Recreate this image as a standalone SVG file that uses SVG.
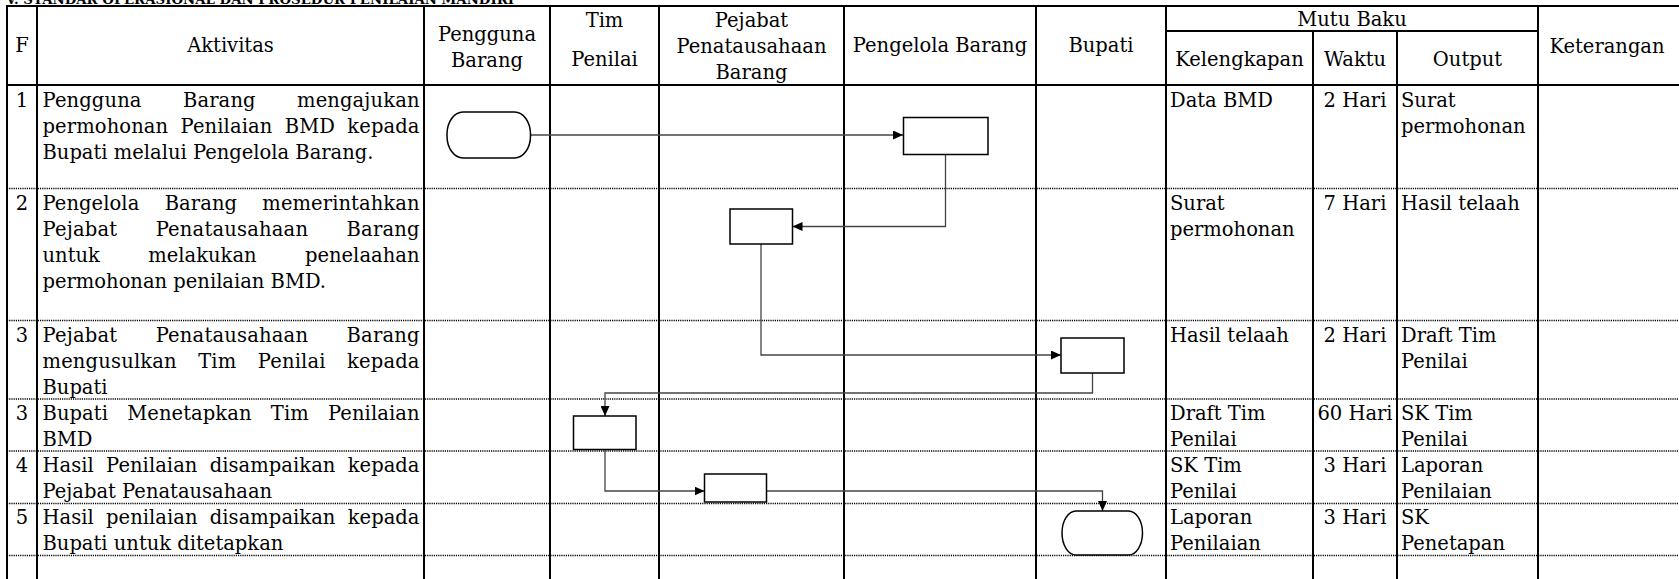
<svg xmlns="http://www.w3.org/2000/svg" width="1679" height="579" viewBox="0 0 1679 579">
<style>
.t{font-family:"DejaVu Serif","Liberation Serif",serif;font-size:19.5px;fill:#000}
.m{text-anchor:middle}
.ttl{font-family:"DejaVu Serif","Liberation Serif",serif;font-size:12.5px;font-weight:bold;fill:#000}
.g{stroke:#000;stroke-width:2;fill:none}
.d{stroke:#000;stroke-width:1.6;stroke-dasharray:1.2 1;fill:none}
.n{fill:#fff;stroke:#000;stroke-width:1.5}
.cn{fill:none;stroke:#444;stroke-width:1.3}
</style>
<defs>
<marker id="ah" markerUnits="userSpaceOnUse" markerWidth="10" markerHeight="9" refX="10" refY="4.5" orient="auto">
<path d="M0,0 L10,4.5 L0,9 z" fill="#000"/>
</marker>
</defs>
<rect width="1679" height="579" fill="#fff"/>
<text class="ttl" x="6" y="4" textLength="508" lengthAdjust="spacingAndGlyphs">V. STANDAR OPERASIONAL DAN PROSEDUR PENILAIAN MANDIRI</text>
<g id="grid">
<path class="g" d="M6,6 H1679 M6,85 H1679 M1166,31 H1538"/>
<path class="g" d="M7,6 V579 M37,6 V579 M424,6 V579 M550,6 V579 M659,6 V579 M844,6 V579 M1036,6 V579 M1166,6 V579 M1313,31 V579 M1397,31 V579 M1538,6 V579"/>
<path class="d" d="M7,188.5 H1679 M7,320.5 H1679 M7,399 H1679 M7,451 H1679 M7,503.5 H1679 M7,555.5 H1679"/>
</g>
<g id="header">
<text class="t m" x="22" y="52">F</text>
<text class="t m" x="230.5" y="52">Aktivitas</text>
<text class="t m" x="487" y="41">Pengguna</text>
<text class="t m" x="487" y="67">Barang</text>
<text class="t m" x="604.5" y="27">Tim</text>
<text class="t m" x="604.5" y="66">Penilai</text>
<text class="t m" x="751.5" y="27">Pejabat</text>
<text class="t m" x="751.5" y="53">Penatausahaan</text>
<text class="t m" x="751.5" y="79">Barang</text>
<text class="t m" x="940" y="52">Pengelola Barang</text>
<text class="t m" x="1101" y="52">Bupati</text>
<text class="t m" x="1352" y="26">Mutu Baku</text>
<text class="t m" x="1239.5" y="66">Kelengkapan</text>
<text class="t m" x="1355" y="66">Waktu</text>
<text class="t m" x="1467.5" y="66">Output</text>
<text class="t m" x="1607" y="53">Keterangan</text>
</g>
<g id="activities">
<text class="t m" x="22" y="106.5">1</text>
<text class="t" x="42.5" y="106.5" style="word-spacing:35px" textLength="377" lengthAdjust="spacing">Pengguna Barang mengajukan</text>
<text class="t" x="42.5" y="132.5" style="word-spacing:6px" textLength="377" lengthAdjust="spacing">permohonan Penilaian BMD kepada</text>
<text class="t" x="42.5" y="158.5">Bupati melalui Pengelola Barang.</text>
<text class="t m" x="22" y="209.5">2</text>
<text class="t" x="42.5" y="209.5" style="word-spacing:19px" textLength="377" lengthAdjust="spacing">Pengelola Barang memerintahkan</text>
<text class="t" x="42.5" y="235.5" style="word-spacing:32px" textLength="377" lengthAdjust="spacing">Pejabat Penatausahaan Barang</text>
<text class="t" x="42.5" y="261.5" style="word-spacing:42px" textLength="377" lengthAdjust="spacing">untuk melakukan penelaahan</text>
<text class="t" x="42.5" y="287.5">permohonan penilaian BMD.</text>
<text class="t m" x="22" y="341.5">3</text>
<text class="t" x="42.5" y="341.5" style="word-spacing:32px" textLength="377" lengthAdjust="spacing">Pejabat Penatausahaan Barang</text>
<text class="t" x="42.5" y="367.5" style="word-spacing:15px" textLength="377" lengthAdjust="spacing">mengusulkan Tim Penilai kepada</text>
<text class="t" x="42.5" y="393.5">Bupati</text>
<text class="t m" x="22" y="419.5">3</text>
<text class="t" x="42.5" y="419.5" style="word-spacing:13px" textLength="377" lengthAdjust="spacing">Bupati Menetapkan Tim Penilaian</text>
<text class="t" x="42.5" y="445.5">BMD</text>
<text class="t m" x="22" y="471.5">4</text>
<text class="t" x="42.5" y="471.5" style="word-spacing:6px" textLength="377" lengthAdjust="spacing">Hasil Penilaian disampaikan kepada</text>
<text class="t" x="42.5" y="497.5">Pejabat Penatausahaan</text>
<text class="t m" x="22" y="524">5</text>
<text class="t" x="42.5" y="524" style="word-spacing:6px" textLength="377" lengthAdjust="spacing">Hasil penilaian disampaikan kepada</text>
<text class="t" x="42.5" y="550">Bupati untuk ditetapkan</text>
</g>
<g id="mutu">
<text class="t" x="1170" y="106.5">Data BMD</text>
<text class="t m" x="1355" y="106.5">2 Hari</text>
<text class="t" x="1401" y="106.5">Surat</text>
<text class="t" x="1401" y="132.5">permohonan</text>
<text class="t" x="1170" y="209.5">Surat</text>
<text class="t" x="1170" y="235.5">permohonan</text>
<text class="t m" x="1355" y="209.5">7 Hari</text>
<text class="t" x="1401" y="209.5">Hasil telaah</text>
<text class="t" x="1170" y="341.5">Hasil telaah</text>
<text class="t m" x="1355" y="341.5">2 Hari</text>
<text class="t" x="1401" y="341.5">Draft Tim</text>
<text class="t" x="1401" y="367.5">Penilai</text>
<text class="t" x="1170" y="419.5">Draft Tim</text>
<text class="t" x="1170" y="445.5">Penilai</text>
<text class="t m" x="1355" y="419.5">60 Hari</text>
<text class="t" x="1401" y="419.5">SK Tim</text>
<text class="t" x="1401" y="445.5">Penilai</text>
<text class="t" x="1170" y="471.5">SK Tim</text>
<text class="t" x="1170" y="497.5">Penilai</text>
<text class="t m" x="1355" y="471.5">3 Hari</text>
<text class="t" x="1401" y="471.5">Laporan</text>
<text class="t" x="1401" y="497.5">Penilaian</text>
<text class="t" x="1170" y="524">Laporan</text>
<text class="t" x="1170" y="550">Penilaian</text>
<text class="t m" x="1355" y="524">3 Hari</text>
<text class="t" x="1401" y="524">SK</text>
<text class="t" x="1401" y="550">Penetapan</text>
</g>
<g id="connectors">
<path class="cn" d="M530.5,135 H903" marker-end="url(#ah)"/>
<path class="cn" d="M945.5,155 V226.5 H792.5" marker-end="url(#ah)"/>
<path class="cn" d="M761,244 V355 H1061" marker-end="url(#ah)"/>
<path class="cn" d="M1092.5,373 V393 H605 V416" marker-end="url(#ah)"/>
<path class="cn" d="M605,449.5 V491 H704.5" marker-end="url(#ah)"/>
<path class="cn" d="M766.5,491 H1102.5 V511" marker-end="url(#ah)"/>
</g>
<g id="start"><rect class="n" x="447" y="112" width="83.5" height="46" rx="16" ry="22"/></g>
<g id="pengelola1"><rect class="n" x="903.5" y="117.5" width="84.5" height="37"/></g>
<g id="pejabat1"><rect class="n" x="730" y="209" width="62.5" height="35"/></g>
<g id="bupati1"><rect class="n" x="1061" y="338" width="63" height="35"/></g>
<g id="tim1"><rect class="n" x="573.5" y="416" width="62.5" height="33.5"/></g>
<g id="pejabat2"><rect class="n" x="704.5" y="474" width="62" height="28"/></g>
<g id="end"><rect class="n" x="1062" y="511" width="80.5" height="44" rx="14" ry="22"/></g>
</svg>
